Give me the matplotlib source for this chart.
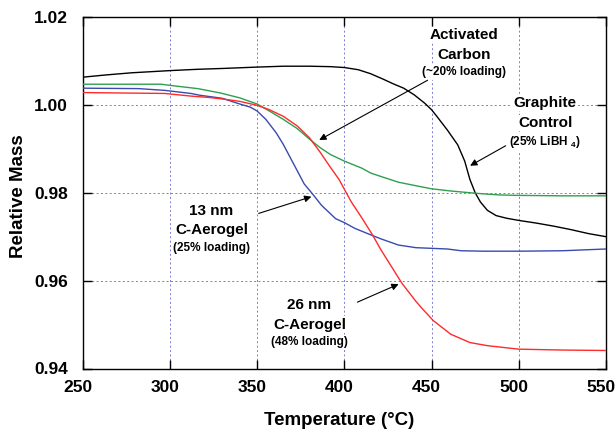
import matplotlib
matplotlib.use("Agg")
import matplotlib.pyplot as plt
from matplotlib.transforms import ScaledTranslation

plt.rcParams['font.family'] = ['Liberation Sans', 'DejaVu Sans']
plt.rcParams['mathtext.fontset'] = 'custom'
plt.rcParams['mathtext.rm'] = 'Liberation Sans:bold'

# Graphite control (black)
t_graphite = [250, 263, 278, 300, 316, 331, 350, 365, 380, 392, 400, 408, 415, 422, 428, 434,
              440, 446, 450, 453, 459, 465, 469, 472, 475, 478, 482, 487, 493, 500, 510, 520,
              530, 540, 550]
m_graphite = [1.0063, 1.0068, 1.0073, 1.0078, 1.0081, 1.0083, 1.0086, 1.0088, 1.0088, 1.0087,
              1.0085, 1.0080, 1.0071, 1.0059, 1.0048, 1.0038, 1.0023, 1.0004, 0.9989, 0.9974,
              0.9943, 0.9909, 0.9872, 0.9830, 0.9800, 0.9779, 0.9760, 0.9748, 0.9742, 0.9737,
              0.9731, 0.9724, 0.9716, 0.9707, 0.9700]

# Activated carbon (green)
t_activated = [250, 275, 295, 303, 316, 329, 340, 350, 357, 365, 373, 380, 386, 392, 400, 410,
               415, 421, 431, 441, 450, 461, 472, 478, 489, 500, 525, 550]
m_activated = [1.0047, 1.0047, 1.0047, 1.0043, 1.0037, 1.0027, 1.0016, 1.0002, 0.9986, 0.9967,
               0.9946, 0.9922, 0.9903, 0.9887, 0.9872, 0.9856, 0.9845, 0.9837, 0.9824, 0.9816,
               0.9809, 0.9804, 0.9800, 0.9798, 0.9795, 0.9794, 0.9793, 0.9793]

# 13 nm C-Aerogel (blue)
t_13nm = [250, 282, 297, 312, 317, 330, 340, 346, 350, 355, 361, 365, 369, 373, 377, 381,
          387, 395, 400, 406, 414, 421, 431, 441, 459, 467, 480, 500, 525, 550]
m_13nm = [1.0038, 1.0037, 1.0033, 1.0026, 1.0022, 1.0015, 1.0002, 0.9995, 0.9986, 0.9967,
          0.9936, 0.9910, 0.9880, 0.9850, 0.9820, 0.9801, 0.9771, 0.9741, 0.9732, 0.9719,
          0.9706, 0.9695, 0.9681, 0.9675, 0.9672, 0.9668, 0.9667, 0.9667, 0.9668, 0.9672]

# 26 nm C-Aerogel (red)
t_26nm = [250, 297, 312, 322, 331, 340, 350, 357, 365, 373, 380, 386, 392, 397, 400, 404,
          410, 416, 421, 427, 433, 441, 444, 451, 461, 472, 482, 500, 525, 550]
m_26nm = [1.0028, 1.0026, 1.0020, 1.0017, 1.0013, 1.0008, 0.9999, 0.9989, 0.9974, 0.9952,
          0.9925, 0.9893, 0.9858, 0.9830, 0.9808, 0.9779, 0.9743, 0.9705, 0.9670, 0.9632,
          0.9594, 0.9553, 0.9539, 0.9509, 0.9478, 0.9459, 0.9452, 0.9444, 0.9442, 0.9441]

x_ticks = [250, 300, 350, 400, 450, 500, 550]
y_ticks = [0.94, 0.96, 0.98, 1.00, 1.02]

fig = plt.figure(figsize=(6.16, 4.30), dpi=100)
ax = fig.add_axes([82.7/616, 1 - 368.5/430, 523.3/616, 351.5/430])

ax.plot(t_graphite, m_graphite, color='black', lw=1.0, zorder=3)
ax.plot(t_activated, m_activated, color='#2ea04e', lw=1.0, zorder=3)
ax.plot(t_13nm, m_13nm, color='#3a4aad', lw=1.0, zorder=3)
ax.plot(t_26nm, m_26nm, color='#ff2a2a', lw=1.0, zorder=3)

ax.set_xlim(250, 550)
ax.set_ylim(0.94, 1.02)
ax.set_xticks(x_ticks)
ax.set_yticks(y_ticks)
ax.set_xticklabels([str(v) for v in x_ticks])
ax.set_yticklabels([f"{v:.2f}" for v in y_ticks])
ax.tick_params(direction='in', top=True, right=True, length=6.5, width=1,
               labelsize=12.5)
ax.tick_params(axis='x', pad=8.4)
ax.tick_params(axis='y', pad=10.6)
shift = ScaledTranslation(-5/100, 0, fig.dpi_scale_trans)
for lab in ax.get_xticklabels():
    lab.set_fontweight('bold')
    lab.set_transform(lab.get_transform() + shift)
for lab in ax.get_yticklabels():
    lab.set_fontweight('bold')
for s in ax.spines.values():
    s.set_linewidth(1.0)

ax.grid(True, color='#7b7bd0', linestyle=(0, (2, 2.5)), linewidth=0.7, zorder=1)

xl = ax.set_xlabel('Temperature (°C)', fontsize=13.5, fontweight='bold')
xl.set_va('center')
ax.xaxis.set_label_coords(0.49, -0.149)
yl = ax.set_ylabel('Relative Mass', fontsize=13.5, fontweight='bold')
yl.set_va('center')
ax.yaxis.set_label_coords(-0.122, 0.49)

bbox = dict(facecolor='white', edgecolor='none', pad=1.0)
big = 11
small = 8.5

def block(x, ys, lines, sizes):
    for y, s, fs in zip(ys, lines, sizes):
        ax.text(x, y, s, ha='center', va='center', fontsize=fs, fontweight='bold',
                bbox=bbox, zorder=4)

block(468.7, [1.0159, 1.0113, 1.0074], ['Activated', 'Carbon', '(~20% loading)'], [big, big, small])
block(515.2, [1.0005, 0.9959, 0.9916], ['Graphite', 'Control', r'(25% LiBH $_4$)'], [big, big, small])
block(323.8, [0.9758, 0.9716, 0.9675], ['13 nm', 'C-Aerogel', '(25% loading)'], [big, big, small])
block(380.0, [0.95445, 0.9500, 0.9460], ['26 nm', 'C-Aerogel', '(48% loading)'], [big, big, small])

arrow = dict(arrowstyle='-|>', color='black', lw=0.8, mutation_scale=10, shrinkA=0, shrinkB=0)
ax.annotate('', xy=(385.6, 0.9920), xytext=(447.7, 1.0056), arrowprops=arrow, zorder=5)
ax.annotate('', xy=(472.1, 0.98615), xytext=(492.5, 0.9907), arrowprops=arrow, zorder=5)
ax.annotate('', xy=(381.1, 0.9791), xytext=(350.9, 0.9753), arrowprops=arrow, zorder=5)
ax.annotate('', xy=(431.1, 0.9592), xytext=(407.5, 0.9551), arrowprops=arrow, zorder=5)

fig.savefig('out.png', dpi=100)
